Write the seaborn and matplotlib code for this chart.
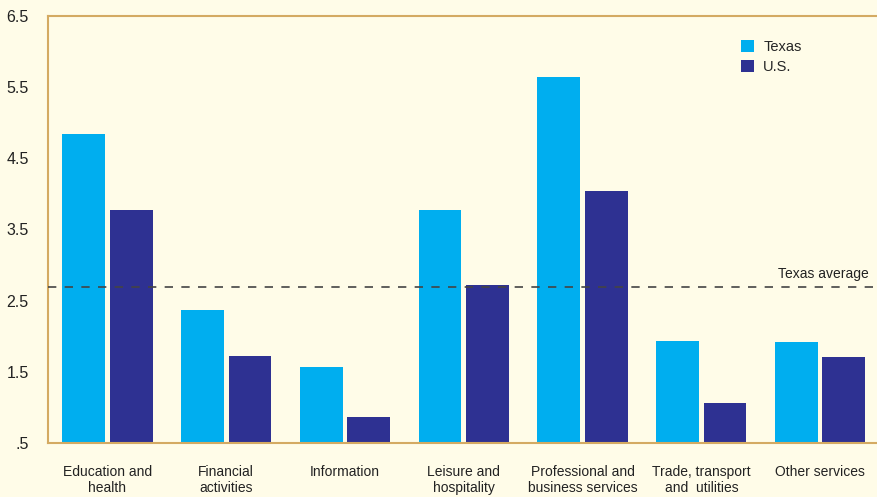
import numpy as np
import pandas as pd
import matplotlib
matplotlib.use("Agg")
import matplotlib.pyplot as plt
import seaborn as sns

CATEGORIES = ["Education and\nhealth", "Financial\nactivities", "Information",
              "Leisure and\nhospitality", "Professional and\nbusiness services",
              "Trade, transport\nand  utilities", "Other services"]
TEXAS = [4.84, 2.37, 1.57, 3.77, 5.64, 1.93, 1.92]
US    = [3.77, 1.72, 0.87, 2.72, 4.04, 1.06, 1.71]
TEXAS_AVG = 2.69
Y_TICKS = [0.5, 1.5, 2.5, 3.5, 4.5, 5.5, 6.5]
Y_LABELS = [".5", "1.5", "2.5", "3.5", "4.5", "5.5", "6.5"]

BG    = "#fffce8"
TAN   = "#d4aa62"
COLORS = {"Texas": "#00aeef", "U.S.": "#2e3192"}

sns.set_theme(style="white")
plt.rcParams["font.family"] = ["Liberation Sans", "DejaVu Sans"]

df = pd.DataFrame({
    "cat": CATEGORIES * 2,
    "val": TEXAS + US,
    "series": ["Texas"] * len(CATEGORIES) + ["U.S."] * len(CATEGORIES),
})

fig = plt.figure(figsize=(8.78, 4.97), dpi=100, facecolor=BG)
ax = fig.add_axes([0.0547, 0.109, 0.947, 0.859], facecolor=BG)

# bars run from 0, the axis is cut at the .5 baseline
sns.barplot(data=df, x="cat", y="val", hue="series", palette=COLORS,
            width=0.8, gap=0.1, saturation=1, ax=ax,
            edgecolor="none", linewidth=0)

ax.axhline(TEXAS_AVG, color="#444444", linestyle=(0, (5, 5)), linewidth=1.2, zorder=3)
ax.text(6.03, TEXAS_AVG + 0.08, "Texas average", fontsize=10, color="#222222",
        ha="center", va="bottom")

ax.set_xlim(-0.5, 6.5)
ax.set_ylim(0.5, 6.5)
ax.set_yticks(Y_TICKS)
ax.set_yticklabels(Y_LABELS, fontsize=11.5, color="#222222")
ax.set_xticks(range(len(CATEGORIES)))
ax.set_xticklabels(CATEGORIES, fontsize=10, color="#222222", linespacing=1.15)
ax.set_xticks(np.arange(-0.5, 6.6, 1.0), minor=True)
ax.tick_params(axis="x", which="major", length=0, pad=16)
ax.tick_params(axis="x", which="minor", length=9, width=1.5, color=TAN, direction="out")
ax.tick_params(axis="y", which="major", length=10, width=1.5, color=TAN,
               direction="out", pad=4)
ax.set_xlabel("")
ax.set_ylabel("")

for side in ["left", "bottom", "top"]:
    ax.spines[side].set_color(TAN)
    ax.spines[side].set_linewidth(1.5)
ax.spines["right"].set_visible(False)

leg = ax.legend(loc="upper left", bbox_to_anchor=(0.818, 0.975), frameon=False,
                fontsize=10.5, handlelength=0.9, handleheight=0.9,
                handletextpad=0.6, labelspacing=0.45)

fig.savefig("out.png", dpi=100, facecolor=BG)
